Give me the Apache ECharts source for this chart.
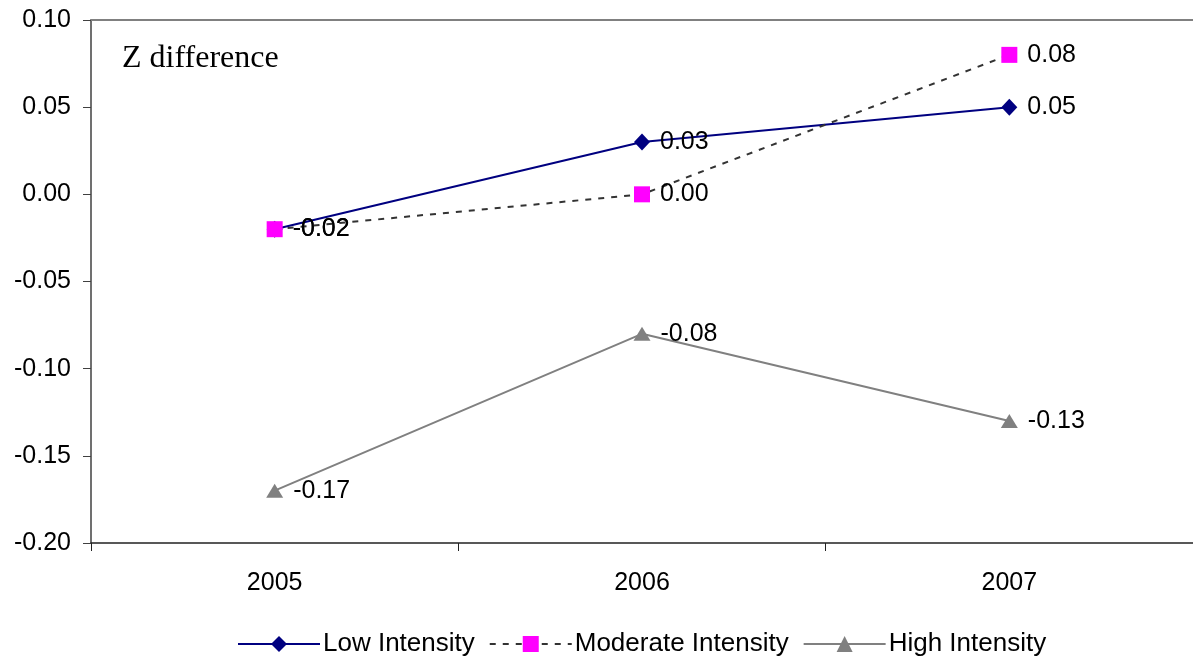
<!DOCTYPE html>
<html>
<head>
<meta charset="utf-8">
<script src="https://cdn.jsdelivr.net/npm/echarts@6/dist/echarts.min.js"></script>
<style>html,body{margin:0;padding:0;background:#fff;}#c{width:1193px;height:665px;}</style>
</head>
<body>
<div id="c"></div>
<script>
const categories = ['2005', '2006', '2007'];
const lowIntensity = [-0.02, 0.03, 0.05];
const moderateIntensity = [-0.02, 0.00, 0.08];
const highIntensity = [-0.17, -0.08, -0.13];
const yTicks = { min: -0.20, max: 0.10, interval: 0.05 };
const annotation = 'Z difference';

const chart = echarts.init(document.getElementById('c'), null, { renderer: 'canvas' });
const labelCfg = {
  show: true, position: 'right', distance: 10,
  fontFamily: 'Liberation Sans, Arial', fontSize: 25, color: '#000',
  formatter: p => p.value.toFixed(2)
};
chart.setOption({
  animation: false,
  backgroundColor: '#fff',
  grid: { left: 91, top: 20, right: -4, bottom: 122, containLabel: false },
  graphic: [{
    type: 'text', left: 122, top: 43,
    style: { text: annotation, font: '32px "Liberation Serif", "Times New Roman", serif', fill: '#000' }
  }],
  legend: {
    bottom: 3, left: 232,
    itemWidth: 82, itemHeight: 20, itemGap: 14,
    textStyle: { fontFamily: 'Liberation Sans, Arial', fontSize: 26, color: '#000', padding: [0,0,0,-2] },
    data: ['Low Intensity', 'Moderate Intensity', 'High Intensity']
  },
  xAxis: [{
    type: 'category', data: categories, boundaryGap: true,
    axisLine: { onZero: false, lineStyle: { color: '#222', width: 1.5 } },
    axisTick: { show: true, length: 8, lineStyle: { color: '#222' } },
    axisLabel: { margin: 28, fontFamily: 'Liberation Sans, Arial', fontSize: 25, color: '#000' },
    splitLine: { show: false }
  }, {
    type: 'category', data: categories, position: 'top',
    axisLine: { show: true, onZero: false, lineStyle: { color: '#808080', width: 2 } },
    axisTick: { show: false }, axisLabel: { show: false }, splitLine: { show: false }
  }],
  yAxis: {
    type: 'value', min: yTicks.min, max: yTicks.max, interval: yTicks.interval,
    axisLine: { show: true, lineStyle: { color: '#404040', width: 1.5 } },
    axisTick: { show: true, length: 8, lineStyle: { color: '#404040' } },
    axisLabel: { margin: 20, fontFamily: 'Liberation Sans, Arial', fontSize: 25, color: '#000',
      formatter: v => v.toFixed(2) },
    splitLine: { show: false }
  },
  series: [{
    name: 'Low Intensity', type: 'line', data: lowIntensity,
    symbol: 'diamond', symbolSize: [16, 17],
    lineStyle: { color: '#000080', width: 2 },
    itemStyle: { color: '#000080' },
    label: labelCfg, z: 3
  }, {
    name: 'Moderate Intensity', type: 'line', data: moderateIntensity,
    symbol: 'rect', symbolSize: 16,
    lineStyle: { color: '#333333', width: 2, type: [6, 7] },
    itemStyle: { color: '#ff00ff' },
    label: labelCfg, z: 4
  }, {
    name: 'High Intensity', type: 'line', data: highIntensity,
    symbol: 'triangle', symbolSize: [17, 14],
    lineStyle: { color: '#808080', width: 2 },
    itemStyle: { color: '#808080' },
    label: labelCfg, z: 2
  }]
});
</script>
</body>
</html>
